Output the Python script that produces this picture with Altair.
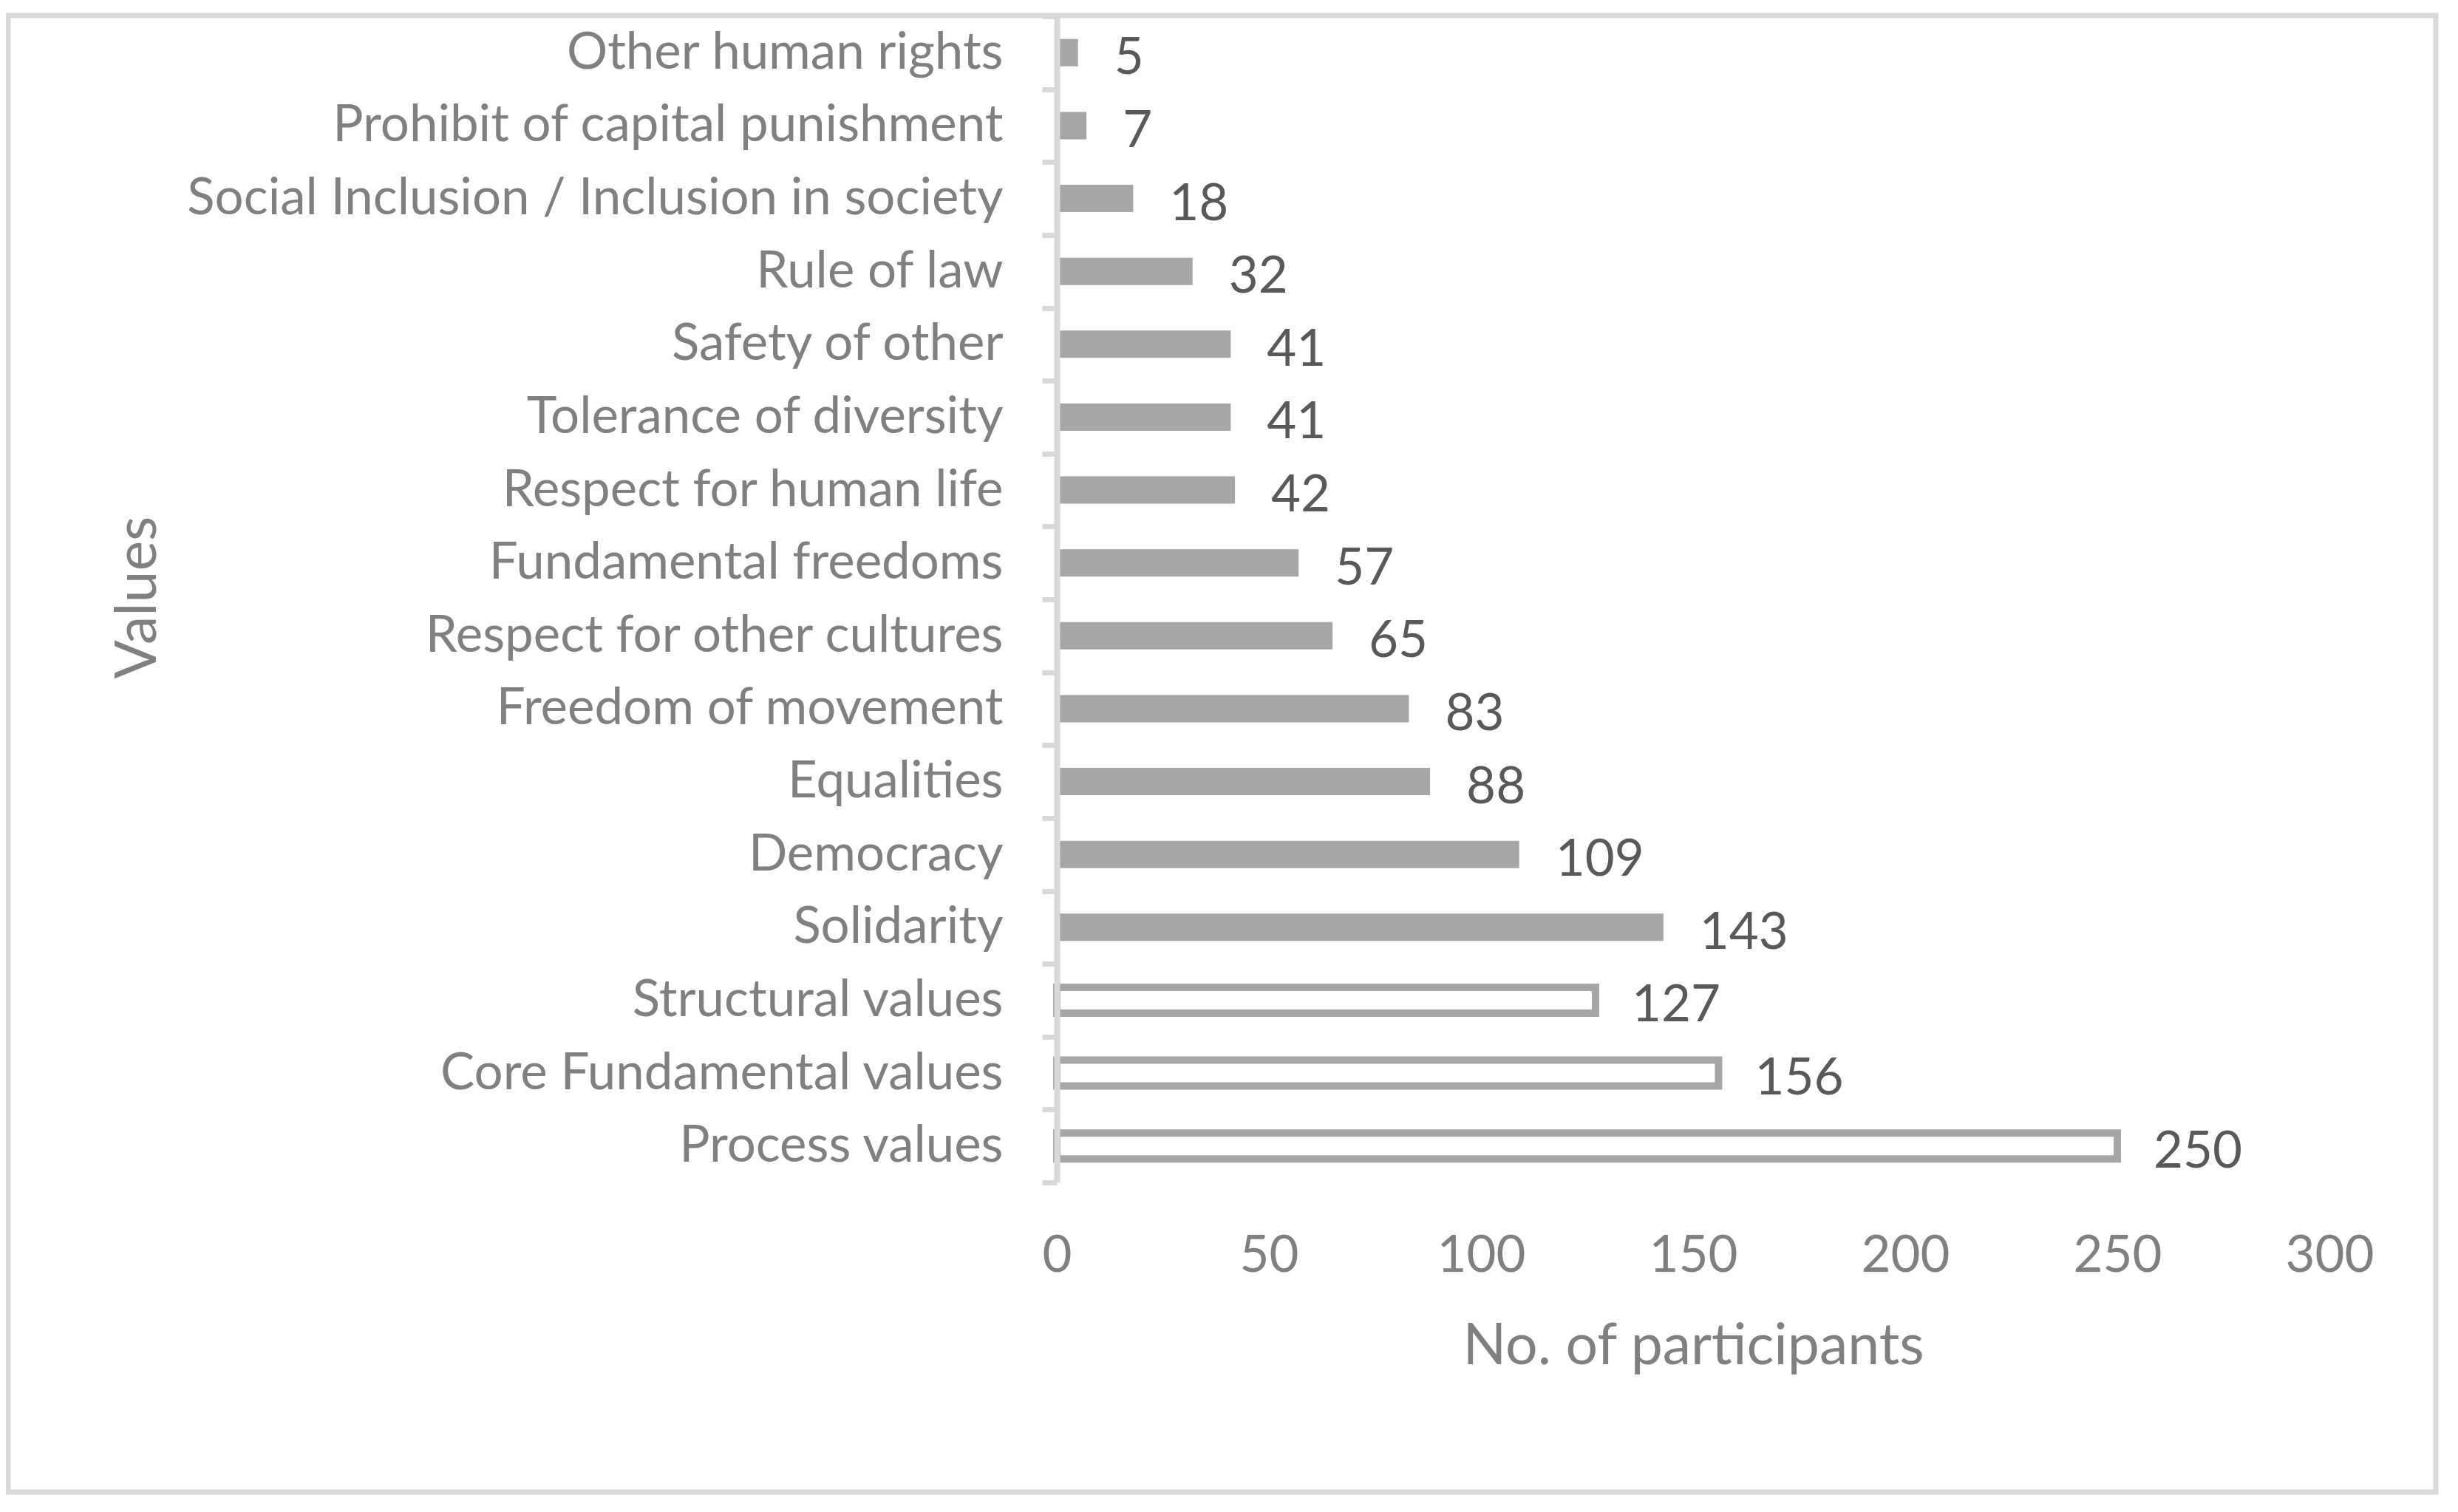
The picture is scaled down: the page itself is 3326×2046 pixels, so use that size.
import altair as alt
import pandas as pd

categories = [
    "Other human rights",
    "Prohibit of capital punishment",
    "Social Inclusion / Inclusion in society",
    "Rule of law",
    "Safety of other",
    "Tolerance of diversity",
    "Respect for human life",
    "Fundamental freedoms",
    "Respect for other cultures",
    "Freedom of movement",
    "Equalities",
    "Democracy",
    "Solidarity",
    "Structural values",
    "Core Fundamental values",
    "Process values",
]
values = [5, 7, 18, 32, 41, 41, 42, 57, 65, 83, 88, 109, 143, 127, 156, 250]
styles = ["filled"] * 13 + ["outline"] * 3
x_ticks = [0, 50, 100, 150, 200, 250, 300]

df = pd.DataFrame({"category": categories, "value": values, "style": styles})

FONT = "Lato"
LABEL_GRAY = "#808080"
DATA_GRAY = "#595959"
LINE_GRAY = "#d9d9d9"
BAR_GRAY = "#a6a6a6"

y_enc = alt.Y(
    "category:N",
    sort=categories,
    scale=alt.Scale(paddingInner=0, paddingOuter=0),
    axis=alt.Axis(
        title="Values",
        titleFont=FONT,
        titleFontSize=77,
        titleFontWeight="normal",
        titleColor=LABEL_GRAY,
        titleAngle=270,
        titleX=-1243,
        titleY=786,
        titleAlign="center",
        titleBaseline="middle",
        labelFont=FONT,
        labelFontSize=69,
        labelColor=LABEL_GRAY,
        labelPadding=53,
        labelLimit=3000,
        tickBand="extent",
        tickSize=20,
        tickWidth=7,
        tickColor=LINE_GRAY,
        domainColor=LINE_GRAY,
        domainWidth=8,
        grid=False,
        zindex=1,
    ),
)
x_enc = alt.X(
    "value:Q",
    scale=alt.Scale(domain=[0, 300], nice=False),
    axis=alt.Axis(
        values=x_ticks,
        domain=False,
        ticks=False,
        grid=False,
        labelFont=FONT,
        labelFontSize=69,
        labelColor=LABEL_GRAY,
        labelPadding=65,
        labelFlush=False,
        title="No. of participants",
        titleFont=FONT,
        titleFontSize=77,
        titleFontWeight="normal",
        titleColor=LABEL_GRAY,
        titleBaseline="alphabetic",
        titleY=245,
    ),
)

base = alt.Chart(df).encode(y=y_enc, x=x_enc)

filled = base.transform_filter(alt.datum.style == "filled").mark_bar(
    size=37, color=BAR_GRAY
)
outline = base.transform_filter(alt.datum.style == "outline").mark_bar(
    size=35, fill="white", stroke=BAR_GRAY, strokeWidth=10
)
labels = base.mark_text(
    align="left", baseline="middle", dx=49, dy=8, fontSize=69, font=FONT, color=DATA_GRAY
).encode(text=alt.Text("value:Q", format="d"))

border = alt.Chart(pd.DataFrame({"a": [0]})).mark_rect(
    filled=False, stroke=LINE_GRAY, strokeWidth=7
).encode(
    x=alt.value(-1419), x2=alt.value(1866), y=alt.value(-1), y2=alt.value(1997)
)

chart = (
    alt.layer(border, filled, outline, labels)
    .properties(
        width=1722,
        height=1578,
        autosize=alt.AutoSizeParams(type="none"),
        padding={"left": 1422, "top": 14, "right": 154, "bottom": 430},
        background="white",
    )
    .configure_view(strokeWidth=0)
)

chart.save("out.html", embed_options={"renderer": "svg", "actions": False})
